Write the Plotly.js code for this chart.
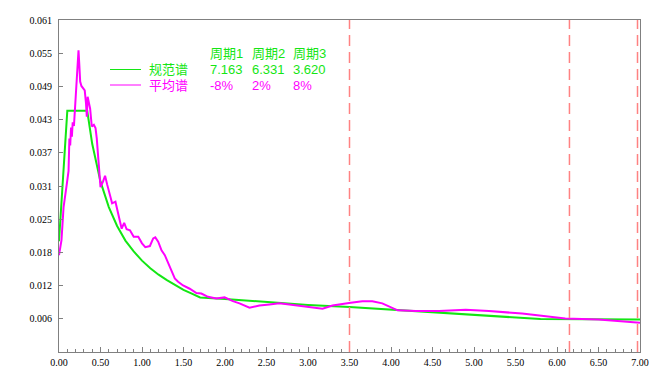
<!DOCTYPE html>
<html>
<head>
<meta charset="utf-8">
<script src="https://cdn.plot.ly/plotly-3.0.1.min.js"></script>
<style>
html,body{margin:0;padding:0;background:#fff;}
#chart{width:662px;height:378px;}
</style>
</head>
<body>
<div id="chart"></div>
<script>
// ---- data ----
const codePeriod = [0, 0.1, 0.34, 0.4, 0.5, 0.6, 0.7, 0.8, 0.9, 1.0, 1.1, 1.2, 1.3, 1.4, 1.5, 1.6, 1.7, 2.0, 2.5, 3.0, 3.5, 4.0, 4.5, 5.0, 5.5, 5.8, 7.0];
const codeSpectrum = [0.0205, 0.0446, 0.0446, 0.0385, 0.0315, 0.0268, 0.0233, 0.0206, 0.0186, 0.0169, 0.0155, 0.0143, 0.0133, 0.0124, 0.0115, 0.0108, 0.0101, 0.0098, 0.0092, 0.0087, 0.0083, 0.0078, 0.0074, 0.0069, 0.0064, 0.0061, 0.0060];

const avgPeriod = [0.00, 0.03, 0.055, 0.075, 0.095, 0.115, 0.125, 0.135, 0.145, 0.155, 0.165, 0.18, 0.195, 0.21, 0.225, 0.235, 0.245, 0.255, 0.27, 0.29, 0.31, 0.325, 0.335, 0.345, 0.355, 0.375, 0.395, 0.42, 0.44, 0.455, 0.475, 0.50, 0.53, 0.555, 0.58, 0.60, 0.64, 0.68, 0.72, 0.755, 0.785, 0.815, 0.855, 0.90, 0.955, 1.00, 1.04, 1.095, 1.135, 1.16, 1.195, 1.235, 1.275, 1.335, 1.395, 1.435, 1.495, 1.575, 1.655, 1.715, 1.795, 1.895, 1.995, 2.095, 2.175, 2.295, 2.415, 2.535, 2.655, 2.775, 2.895, 3.055, 3.175, 3.295, 3.415, 3.515, 3.655, 3.775, 3.895, 4.08, 4.3, 4.58, 4.9, 5.18, 5.58, 5.86, 6.10, 6.5, 6.78, 7.0];
const avgSpectrum = [0.0179, 0.0207, 0.0268, 0.0296, 0.0312, 0.0335, 0.0395, 0.0382, 0.0415, 0.0398, 0.0425, 0.0418, 0.0455, 0.0484, 0.0520, 0.0558, 0.0530, 0.0500, 0.0492, 0.0488, 0.0484, 0.0460, 0.0435, 0.0472, 0.0466, 0.0450, 0.0417, 0.0420, 0.0414, 0.0395, 0.0355, 0.0305, 0.0315, 0.0326, 0.0310, 0.0299, 0.0275, 0.0278, 0.0250, 0.0228, 0.0239, 0.0227, 0.0225, 0.0213, 0.0213, 0.0201, 0.0194, 0.0196, 0.0210, 0.0212, 0.0204, 0.0188, 0.0179, 0.0157, 0.0136, 0.0130, 0.0123, 0.0117, 0.0109, 0.0108, 0.0102, 0.0099, 0.0101, 0.0094, 0.0090, 0.0082, 0.0086, 0.0088, 0.0090, 0.0088, 0.0086, 0.0083, 0.0080, 0.0086, 0.0088, 0.0091, 0.0094, 0.0094, 0.0090, 0.0077, 0.0076, 0.0076, 0.0078, 0.0076, 0.0071, 0.0066, 0.0062, 0.0060, 0.0057, 0.0054];

const markerPeriods = [3.5, 6.15, 6.97];

const yTickVals = [0.00614, 0.01228, 0.01842, 0.02456, 0.0307, 0.03684, 0.04298, 0.04912, 0.05526, 0.0614];
const yTickText = ['0.006', '0.012', '0.018', '0.025', '0.031', '0.037', '0.043', '0.049', '0.055', '0.061'];

const seriesNames = ['规范谱', '平均谱'];
const periodLabels = ['周期1', '周期2', '周期3'];
const periodValues = ['7.163', '6.331', '3.620'];
const deviations = ['-8%', '2%', '8%'];

// ---- style ----
const GREEN = '#14e614';
const MAGENTA = '#ff00ff';
const AXIS = '#808080';
const DASH = 'rgb(255,130,130)';
const tickFont = {family: '"Liberation Sans Narrow", "Liberation Serif", serif', size: 10, color: '#000'};
const legFont = '"Liberation Sans Narrow", "Liberation Sans", "Noto Sans CJK SC", sans-serif';

// plot area in pixels (for legend placement)
const PL = 59, PR = 640, PT = 20, PB = 352;
const px = x => (x - PL) / (PR - PL);
const py = y => (PB - y) / (PB - PT);

const traces = [
  {x: codePeriod, y: codeSpectrum, mode: 'lines', line: {color: GREEN, width: 2}, name: seriesNames[0], hoverinfo: 'skip'},
  {x: avgPeriod, y: avgSpectrum, mode: 'lines', line: {color: MAGENTA, width: 2}, name: seriesNames[1], hoverinfo: 'skip'}
];

const shapes = markerPeriods.map(t => ({
  type: 'line', xref: 'x', yref: 'paper', x0: t, x1: t, y0: 0, y1: 1,
  line: {color: DASH, width: 1.5, dash: '11px,6px'}, opacity: 1, layer: 'above'
}));
// legend sample lines
[GREEN, MAGENTA].forEach((c, i) => {
  const yy = py(69.5 + i * 15.5);
  shapes.push({type: 'line', xref: 'paper', yref: 'paper', x0: px(110), x1: px(141), y0: yy, y1: yy, line: {color: c, width: 1}});
});

const annotations = [];
function ann(text, x, y, color) {
  annotations.push({text: text, xref: 'paper', yref: 'paper', x: px(x), y: py(y), xanchor: 'left', yanchor: 'middle',
    showarrow: false, font: {family: legFont, size: 13, color: color}, borderpad: 0});
}
ann(seriesNames[0], 148, 69.5, GREEN);
ann(seriesNames[1], 148, 85, MAGENTA);
const colX = [209, 251, 292];
periodLabels.forEach((t, i) => ann(t, colX[i], 53.5, GREEN));
periodValues.forEach((t, i) => ann(t, colX[i], 69.5, GREEN));
deviations.forEach((t, i) => ann(t, colX[i], 85, MAGENTA));

const layout = {
  width: 662, height: 378,
  margin: {l: PL, r: 662 - PR, t: PT, b: 378 - PB},
  paper_bgcolor: '#fff', plot_bgcolor: '#fff',
  showlegend: false,
  xaxis: {
    range: [0, 7], tick0: 0, dtick: 0.5, tickformat: '.2f',
    showgrid: false, zeroline: false,
    showline: true, linecolor: AXIS, linewidth: 1, mirror: true,
    ticks: 'inside', ticklen: 5, tickcolor: AXIS, tickwidth: 1,
    minor: {ticks: 'inside', dtick: 0.1, ticklen: 3, tickcolor: AXIS, showgrid: false},
    tickfont: tickFont, ticklabelstandoff: 1
  },
  yaxis: {
    range: [0, 0.0614], tickvals: yTickVals, ticktext: yTickText,
    showgrid: false, zeroline: false,
    showline: true, linecolor: AXIS, linewidth: 1, mirror: true,
    ticks: 'inside', ticklen: 4, tickcolor: AXIS, tickwidth: 1,
    tickfont: tickFont, ticklabelstandoff: 4
  },
  shapes: shapes,
  annotations: annotations
};

Plotly.newPlot('chart', traces, layout, {staticPlot: true, displayModeBar: false});
</script>
</body>
</html>
